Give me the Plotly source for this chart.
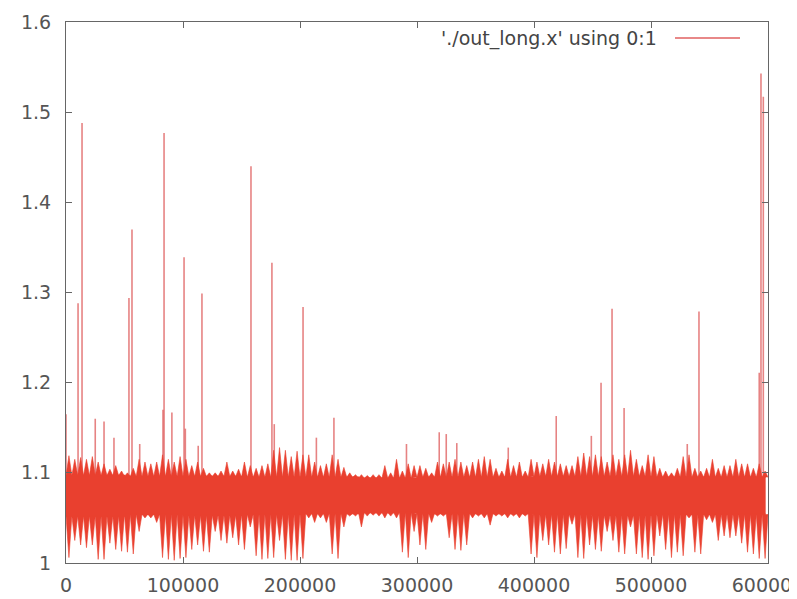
import plotly.graph_objects as go

# ---------------- data ----------------
BIN = 5000  # x width of each envelope bin

# typical top of the noisy fringe, per 5000-sample bin (0 .. 600000)
fringe_hi = [
    1.119, 1.115, 1.117, 1.115, 1.118, 1.112, 1.110, 1.104, 1.108, 1.102,
    1.100, 1.105, 1.115, 1.112, 1.110, 1.112, 1.120, 1.115, 1.112, 1.118,
    1.115, 1.108, 1.112, 1.105, 1.100, 1.100, 1.102, 1.112, 1.102, 1.104,
    1.112, 1.108, 1.105, 1.108, 1.110, 1.125, 1.128, 1.125, 1.118, 1.124,
    1.120, 1.120, 1.112, 1.108, 1.110, 1.120, 1.115, 1.106, 1.100, 1.098,
    1.098, 1.097, 1.098, 1.098, 1.108, 1.100, 1.115, 1.102, 1.110, 1.108,
    1.108, 1.105, 1.100, 1.112, 1.110, 1.112, 1.115, 1.112, 1.108, 1.112,
    1.115, 1.118, 1.115, 1.105, 1.102, 1.115, 1.108, 1.112, 1.102, 1.115,
    1.112, 1.110, 1.115, 1.112, 1.110, 1.108, 1.108, 1.118, 1.122, 1.118,
    1.120, 1.118, 1.112, 1.120, 1.115, 1.120, 1.125, 1.115, 1.108, 1.120,
    1.118, 1.105, 1.102, 1.100, 1.105, 1.118, 1.120, 1.105, 1.102, 1.105,
    1.115, 1.105, 1.108, 1.108, 1.115, 1.110, 1.110, 1.105, 1.110, 1.102,
]
# typical bottom of the noisy fringe, per bin
fringe_lo = [
    1.006, 1.025, 1.020, 1.017, 1.020, 1.004, 1.004, 1.022, 1.015, 1.013,
    1.012, 1.010, 1.035, 1.050, 1.050, 1.045, 1.006, 1.004, 1.003, 1.005,
    1.006, 1.015, 1.020, 1.013, 1.012, 1.035, 1.025, 1.022, 1.028, 1.020,
    1.015, 1.040, 1.008, 1.004, 1.005, 1.006, 1.025, 1.004, 1.003, 1.003,
    1.005, 1.050, 1.045, 1.050, 1.045, 1.010, 1.005, 1.040, 1.052, 1.052,
    1.040, 1.052, 1.053, 1.052, 1.050, 1.052, 1.050, 1.012, 1.006, 1.035,
    1.020, 1.015, 1.045, 1.052, 1.052, 1.028, 1.015, 1.014, 1.020, 1.050,
    1.052, 1.050, 1.042, 1.052, 1.052, 1.050, 1.052, 1.050, 1.052, 1.010,
    1.006, 1.025, 1.020, 1.012, 1.010, 1.016, 1.043, 1.006, 1.005, 1.020,
    1.015, 1.013, 1.035, 1.025, 1.012, 1.010, 1.040, 1.010, 1.006, 1.004,
    1.008, 1.030, 1.015, 1.006, 1.012, 1.008, 1.050, 1.012, 1.010, 1.048,
    1.045, 1.025, 1.030, 1.028, 1.030, 1.022, 1.012, 1.010, 1.005, 1.005,
]

# solid core of the band, per 50000-sample block
CORE_BIN = 50000
core_hi = [1.097, 1.096, 1.096, 1.095, 1.095, 1.094, 1.095, 1.095, 1.096, 1.096, 1.095, 1.095]
core_lo = [1.052, 1.054, 1.053, 1.054, 1.055, 1.056, 1.055, 1.055, 1.054, 1.053, 1.054, 1.054]
band_mid = 1.075
data_end = 598000

# isolated tall upward spikes
spike_x = [0, 10300, 13700, 25000, 32500, 41000, 53800, 56400, 63000, 82900,
           83800, 90500, 100900, 102000, 113000, 116200, 158100, 176000, 178000,
           202600, 214000, 229000, 291000, 319000, 325000, 334000, 378000,
           419000, 449000, 457300, 466700, 477000, 531000, 541000, 592500,
           594000, 596000]
spike_y = [1.165, 1.288, 1.488, 1.160, 1.157, 1.139, 1.294, 1.370, 1.132, 1.170,
           1.477, 1.167, 1.339, 1.149, 1.130, 1.299, 1.440, 1.333, 1.154,
           1.284, 1.139, 1.161, 1.132, 1.145, 1.143, 1.133, 1.128,
           1.163, 1.141, 1.200, 1.282, 1.172, 1.132, 1.279, 1.211,
           1.543, 1.517]

x_ticks = [0, 100000, 200000, 300000, 400000, 500000, 600000]
x_tick_labels = ["0", "100000", "200000", "300000", "400000", "500000", "600000"]
y_ticks = [1.0, 1.1, 1.2, 1.3, 1.4, 1.5, 1.6]
y_tick_labels = ["1", "1.1", "1.2", "1.3", "1.4", "1.5", "1.6"]
legend_label = "'./out_long.x' using 0:1"

# ---------------- figure ----------------
RED = "#e9402f"
SPIKE = "rgba(222,90,90,0.75)"
FONT = "DejaVu Sans"

fig = go.Figure()

# spikes as vertical strokes
sx, sy = [], []
for x, y in zip(spike_x, spike_y):
    sx += [x, x, None]
    sy += [band_mid, y, None]
fig.add_trace(go.Scatter(x=sx, y=sy, mode="lines",
                         line=dict(color=SPIKE, width=1.6),
                         hoverinfo="skip", showlegend=False))

# noisy fringe: one filled tooth per bin, rising from the core's edge
# up to the bin's high and down to the bin's low
n = len(fringe_hi)
x_end = n * BIN
per_block = CORE_BIN // BIN
for env, edge in ((fringe_hi, core_hi), (fringe_lo, core_lo)):
    bx, by, tx, ty = [], [], [], []
    for i, v in enumerate(env):
        e = edge[min(i // per_block, len(edge) - 1)]
        tx += [i * BIN, i * BIN + BIN * 0.5]
        ty += [e, v]
        bx.append(i * BIN)
        by.append(e)
    tx.append(x_end)
    ty.append(edge[-1])
    bx.append(x_end)
    by.append(edge[-1])
    fig.add_trace(go.Scatter(x=bx, y=by, mode="lines",
                             line=dict(width=0, color=RED),
                             hoverinfo="skip", showlegend=False))
    fig.add_trace(go.Scatter(x=tx, y=ty, mode="lines",
                             line=dict(width=0.6, color=RED),
                             fill="tonexty", fillcolor=RED,
                             hoverinfo="skip", showlegend=False))

# solid core
cx = [i * CORE_BIN for i in range(len(core_hi))] + [data_end]
fig.add_trace(go.Scatter(x=cx, y=core_lo + [core_lo[-1]], mode="lines",
                         line=dict(color=RED, width=1.5, shape="hv"),
                         hoverinfo="skip", showlegend=False))
fig.add_trace(go.Scatter(x=cx, y=core_hi + [core_hi[-1]], mode="lines",
                         line=dict(color=RED, width=1.5, shape="hv"),
                         fill="tonexty", fillcolor=RED,
                         hoverinfo="skip", showlegend=False))

axis_common = dict(showline=True, linecolor="#666", linewidth=1, mirror="ticks",
                   ticks="inside", ticklen=6, tickcolor="#666",
                   showgrid=False, zeroline=False, automargin=False,
                   ticklabeloverflow="allow",
                   tickfont=dict(family=FONT, size=19, color="#555"))

# the page body adds an 8px margin, so the figure is sized 8px smaller
fig.update_layout(
    width=789, height=591,
    margin=dict(l=58, r=29, t=14, b=36),
    paper_bgcolor="white", plot_bgcolor="white",
    showlegend=False,
    xaxis=dict(range=[0, 600000], tickvals=x_ticks, ticktext=x_tick_labels,
               ticklabelstandoff=5, **axis_common),
    yaxis=dict(range=[1.0, 1.6], tickvals=y_ticks, ticktext=y_tick_labels,
               ticklabelstandoff=10, **axis_common),
    annotations=[dict(text=legend_label, xref="paper", yref="paper",
                      x=(659 - 66) / 702, y=1 - (38 - 22) / 541,
                      xanchor="right", yanchor="middle", showarrow=False,
                      font=dict(family=FONT, size=19, color="#444"))],
    shapes=[dict(type="line", xref="paper", yref="paper",
                 x0=(675 - 66) / 702, x1=(740 - 66) / 702,
                 y0=1 - (38 - 22) / 541, y1=1 - (38 - 22) / 541,
                 line=dict(color="#e06060", width=1.4))],
)

fig.write_html("out.html")
